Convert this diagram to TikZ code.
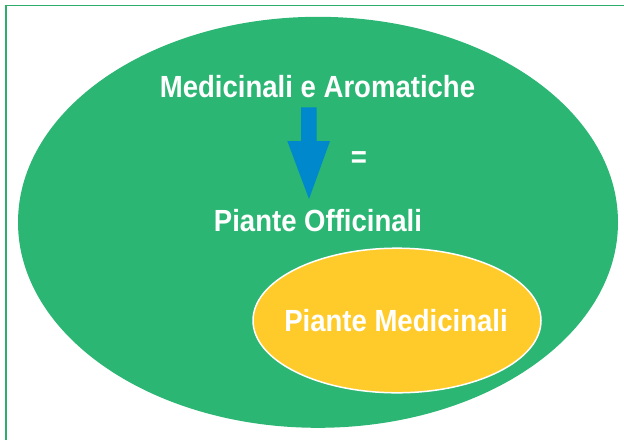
\documentclass[tikz,border=0pt]{standalone}
\usepackage{fontspec}
\setmainfont{Liberation Sans}[FakeStretch=0.9]
\definecolor{leafgreen}{HTML}{2BB673}
\definecolor{framegreen}{HTML}{2DAE6C}
\definecolor{sunyellow}{HTML}{FFCB2B}
\definecolor{arrowblue}{HTML}{0088CC}
\tikzset{
  lbl/.style={text=white, font=\fontsize{30.6}{36}\selectfont\bfseries, inner sep=0pt, anchor=base},
}
\begin{document}
\begin{tikzpicture}[x=1pt,y=-1pt]
\useasboundingbox (0,0) rectangle (624,440);
\draw[framegreen, line width=1.5pt] (6,440) -- (6,5.5) -- (624,5.5);
\fill[leafgreen] (318,222.3) ellipse [x radius=300, y radius=205.5];
\draw[sunyellow, fill=sunyellow, draw=white, line width=1.5pt] (397,320.5) ellipse [x radius=144, y radius=72.3];
\fill[arrowblue] (301,107.3) -- (316.7,107.3) -- (316.7,141) -- (330,141) -- (309,199) -- (287.3,141) -- (301,141) -- cycle;
\node[lbl] (ma) at (317.5,97.3) {Medicinali e Aromatiche};
\node[lbl] (eq) at (359,167.5) {=};
\node[lbl] (po) at (318,231.7) {Piante Officinali};
\node[lbl] (pm) at (396,331.7) {Piante Medicinali};
\end{tikzpicture}
\end{document}
